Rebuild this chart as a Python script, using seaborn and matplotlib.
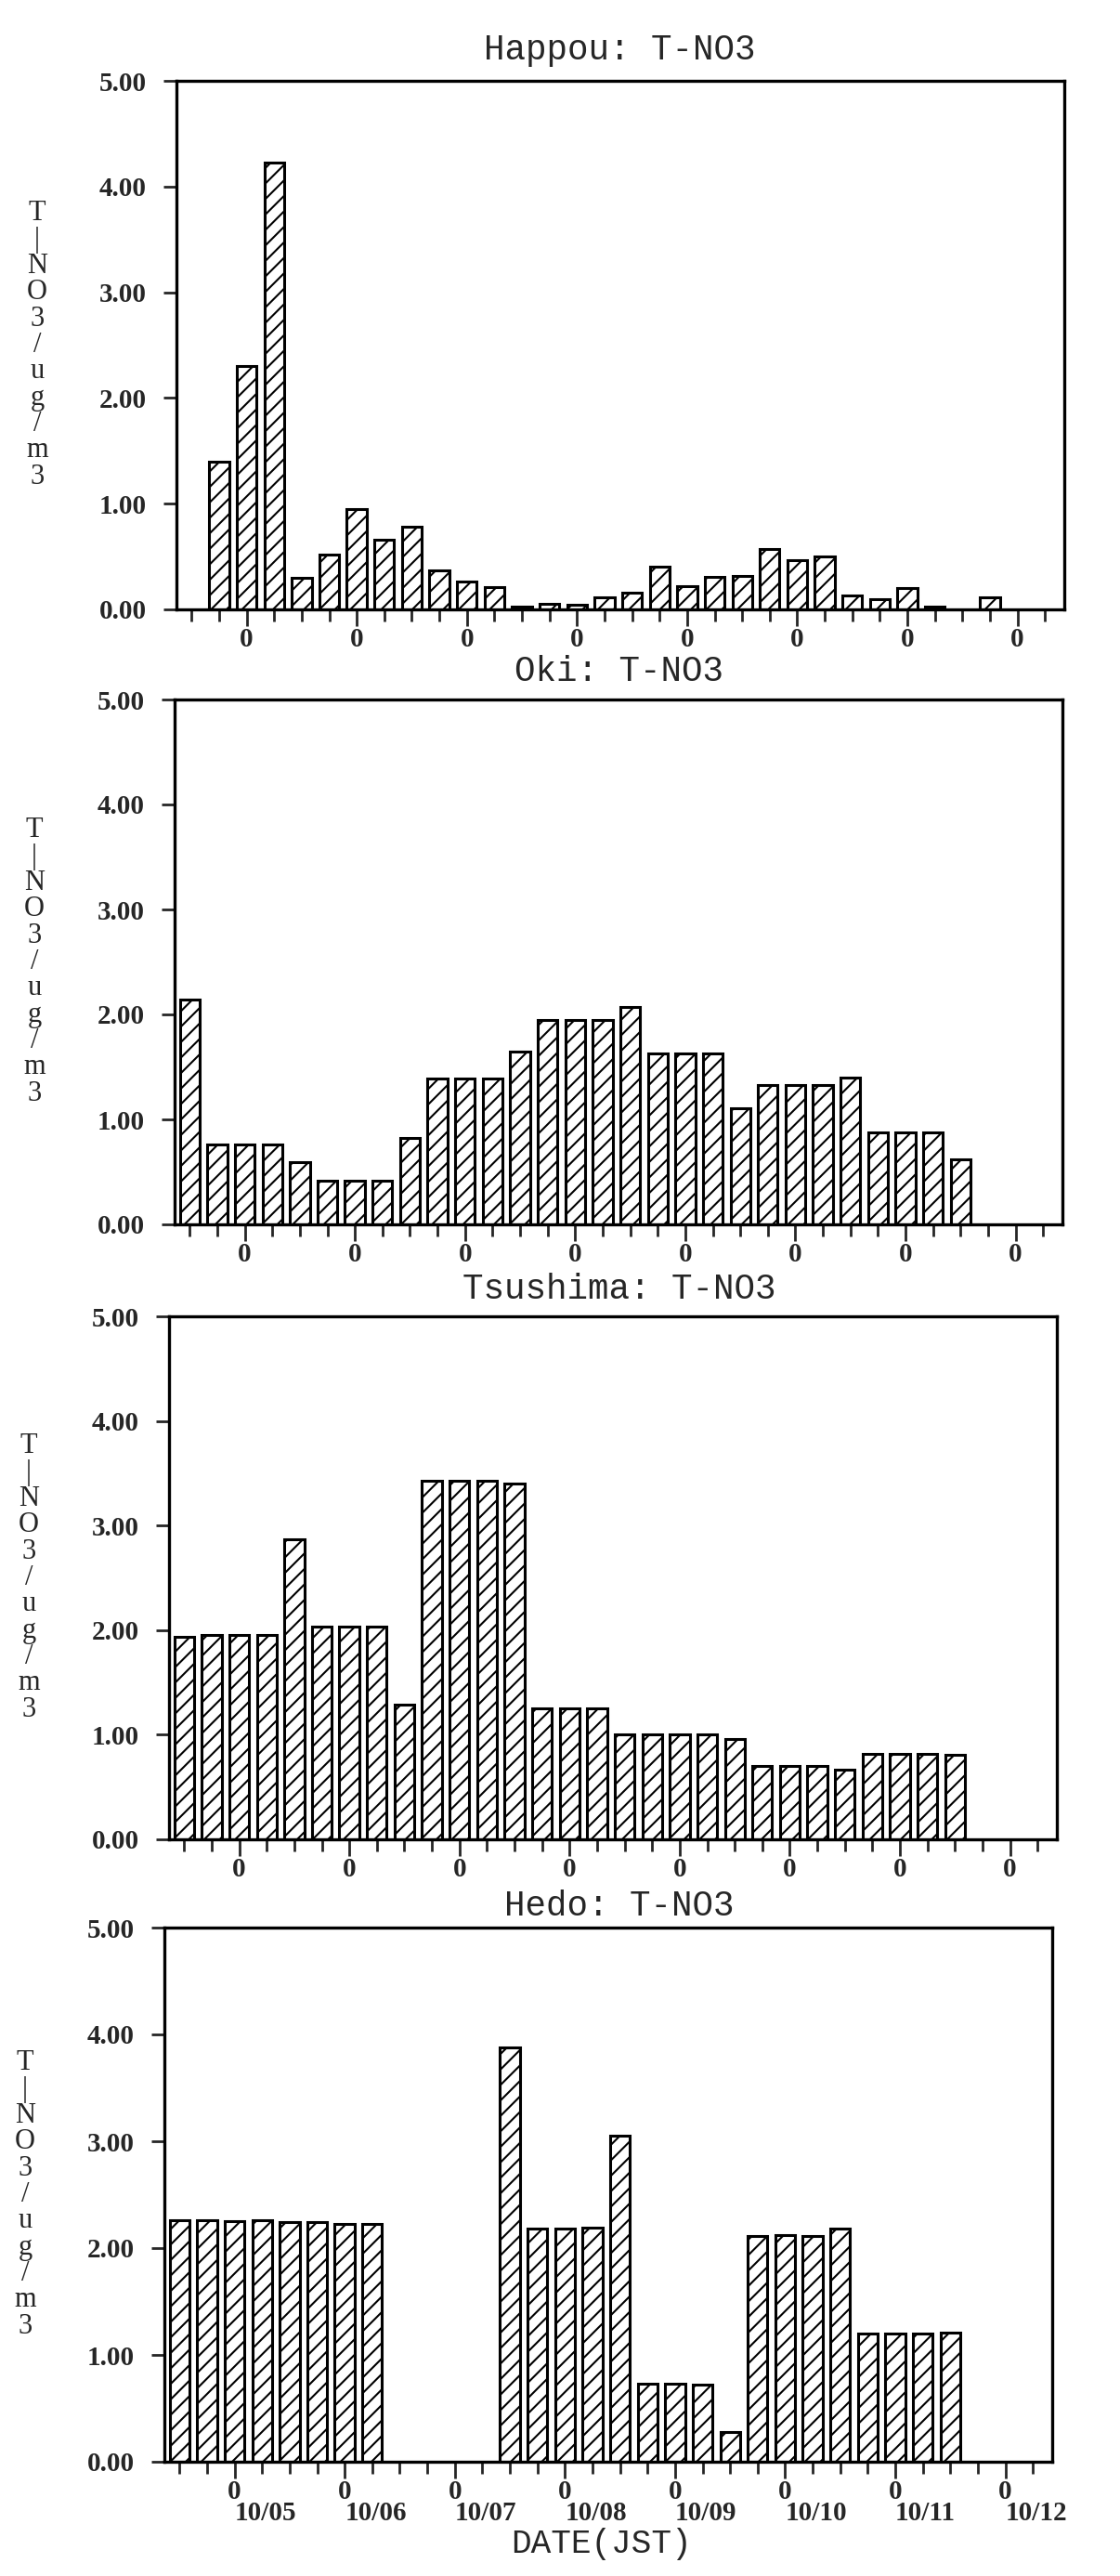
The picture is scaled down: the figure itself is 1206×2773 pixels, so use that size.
import numpy as np
import pandas as pd
import matplotlib
matplotlib.use("Agg")
import matplotlib.pyplot as plt
import seaborn as sns
from matplotlib.transforms import blended_transform_factory

# ---- data (6-hourly samples, slot 0 = 10/04 12:00 JST) ----
slots = list(range(32))
label_slots = [2, 6, 10, 14, 18, 22, 26, 30]
hour_labels = ["0", "0", "0", "0", "0", "0", "0", "0"]
dates = ["10/05", "10/06", "10/07", "10/08", "10/09", "10/10", "10/11", "10/12"]
stations = ["Happou", "Oki", "Tsushima", "Hedo"]
nan = np.nan

happou = [nan, 1.40, 2.30, 4.23, 0.30, 0.52, 0.95, 0.66, 0.78, 0.37, 0.26, 0.21,
          0.03, 0.05, 0.04, 0.11, 0.16, 0.40, 0.22, 0.31, 0.32, 0.57, 0.47, 0.50,
          0.13, 0.10, 0.20, 0.03, nan, 0.11, nan, nan]
oki = [2.14, 0.76, 0.76, 0.76, 0.59, 0.42, 0.42, 0.42, 0.82, 1.39, 1.39, 1.39,
       1.65, 1.95, 1.95, 1.95, 2.07, 1.63, 1.63, 1.63, 1.11, 1.33, 1.33, 1.33,
       1.40, 0.88, 0.88, 0.88, 0.62, nan, nan, nan]
tsushima = [1.94, 1.95, 1.95, 1.95, 2.87, 2.03, 2.03, 2.03, 1.29, 3.43, 3.43, 3.43,
            3.40, 1.25, 1.25, 1.25, 1.00, 1.00, 1.00, 1.00, 0.96, 0.70, 0.70, 0.70,
            0.67, 0.82, 0.82, 0.82, 0.81, nan, nan, nan]
hedo = [2.26, 2.26, 2.25, 2.26, 2.24, 2.24, 2.23, 2.23, nan, nan, nan, nan,
        3.88, 2.18, 2.18, 2.19, 3.05, 0.73, 0.73, 0.72, 0.28, 2.11, 2.12, 2.11,
        2.18, 1.20, 1.20, 1.20, 1.21, nan, nan, nan]
series = [happou, oki, tsushima, hedo]

yticks = [0, 1, 2, 3, 4, 5]
ytick_labels = ["0.00", "1.00", "2.00", "3.00", "4.00", "5.00"]
ylabel_chars = ["T", "|", "N", "O", "3", "/", "u", "g", "/", "m", "3"]

# ---- style ----
sns.set_style("ticks")
plt.rcParams["font.family"] = ["Liberation Serif", "DejaVu Serif"]
plt.rcParams["font.weight"] = "bold"
plt.rcParams["hatch.linewidth"] = 1.5
plt.rcParams["hatch.color"] = "black"

W, H = 1206, 2773
fig = plt.figure(figsize=(W / 100, H / 100), dpi=100)
fig.patch.set_facecolor("white")

# axes boxes in pixels: left, top, bottom
boxes = [(190, 87, 656), (188, 753, 1318), (182, 1417, 1980), (177, 2075, 2650)]
ax_width = 956
title_y = [54, 723, 1388, 2052]
ylabel_x = [40, 37, 31, 27]

for i, (name, vals) in enumerate(zip(stations, series)):
    left, top, bottom = boxes[i]
    ax = fig.add_axes([left / W, 1 - bottom / H, ax_width / W, (bottom - top) / H])
    df = pd.DataFrame({"slot": slots, "value": vals}).dropna()
    sns.barplot(data=df, x="slot", y="value", native_scale=True, width=0.72,
                color="white", saturation=1, edgecolor="black", linewidth=2.2,
                hatch="//", errorbar=None, ax=ax)
    ax.set_xlim(-0.55, 31.7)
    ax.set_ylim(0, 5)
    ax.set_xlabel("")
    ax.set_ylabel("")
    ax.set_yticks(yticks)
    ax.set_yticklabels(ytick_labels)
    ax.set_xticks(label_slots)
    ax.set_xticklabels(hour_labels)
    ax.set_xticks([s for s in slots if s not in label_slots], minor=True)
    ax.tick_params(axis="x", which="major", length=13, width=2.0, pad=1,
                   labelsize=21, direction="out")
    ax.tick_params(axis="x", which="minor", length=9.5, width=2.0, direction="out")
    ax.tick_params(axis="y", which="major", length=10, width=2.0, pad=13,
                   labelsize=21, direction="out")
    for sp in ax.spines.values():
        sp.set_visible(True)
        sp.set_linewidth(2.4)
        sp.set_color("black")
    ax.set_facecolor("white")

    fig.text(667 / W, 1 - title_y[i] / H, f"{name}: T-NO3", ha="center", va="center",
             family="Liberation Mono", fontweight="normal", fontsize=27)
    fig.text(ylabel_x[i] / W, 1 - ((top + bottom) / 2) / H, "\n".join(ylabel_chars),
             ha="center", va="center", family="Liberation Serif",
             fontweight="normal", fontsize=22, linespacing=0.97)

    if i == len(stations) - 1:
        trans = blended_transform_factory(ax.transData, ax.transAxes)
        for s, d in zip(label_slots, dates):
            ax.annotate(d, xy=(s, 0), xycoords=trans, xytext=(0, -40),
                        textcoords="offset points", ha="left", va="center",
                        fontsize=21, fontweight="bold")

fig.text(647 / W, 1 - 2739 / H, "DATE(JST)", ha="center", va="center",
         family="Liberation Mono", fontweight="normal", fontsize=26)

fig.savefig("out.png", dpi=100, facecolor="white")
